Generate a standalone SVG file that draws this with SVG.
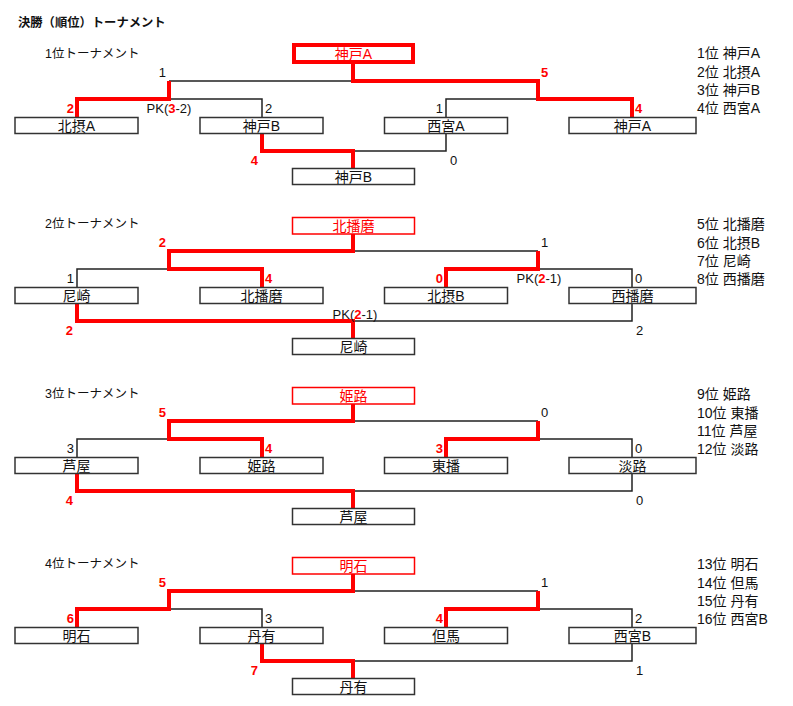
<svg xmlns="http://www.w3.org/2000/svg" width="793" height="706" viewBox="0 0 793 706">
<style>
text{font-family:"Liberation Sans","Noto Sans CJK JP",sans-serif;fill:#111}
.box{fill:#fff;stroke:#333;stroke-width:1.5}
.wbox{fill:#fff;stroke:#f00;stroke-width:1.5}
.wbox1{fill:#fff;stroke:#f00;stroke-width:4}
.ln{fill:none;stroke:#222;stroke-width:1.5}
.rd{fill:none;stroke:#f00;stroke-width:4}
.bt{font-size:14px;text-anchor:middle}
.wt{font-size:14px;text-anchor:middle;fill:#f00}
.hd{font-size:12.5px}
.ttl{font-size:12.3px;font-weight:bold}
.lg{font-size:14px}
.sc{font-size:13px}
.rs{font-size:13px;fill:#f00;font-weight:bold}
.e{text-anchor:end}
.m{text-anchor:middle}
.r{fill:#f00;font-weight:bold}
</style>
<rect width="793" height="706" fill="#fff"/>
<text class="ttl" x="18" y="27">決勝（順位）トーナメント</text>

<g id="connectors">
  <g id="conn-1">
    <path class="ln" d="M169 81H353M169 99H262V117M446 117V99H538M353 151H446V134"/>
    <path class="rd" d="M353 64V81H538V99H632V117M77 117V99H169V81M262 134V151H353V168"/>
  </g>
  <g id="conn-2" transform="translate(0,170)">
    <path class="ln" d="M353 81H538M77 117V99H169M538 99H632V117M353 151H632V134"/>
    <path class="rd" d="M353 64V81H169V99H262V117M446 117V99H538V81M77 134V151H353V168"/>
  </g>
  <g id="conn-3" transform="translate(0,340)">
    <path class="ln" d="M353 81H538M77 117V99H169M538 99H632V117M353 151H632V134"/>
    <path class="rd" d="M353 64V81H169V99H262V117M446 117V99H538V81M77 134V151H353V168"/>
  </g>
  <g id="conn-4" transform="translate(0,510)">
    <path class="ln" d="M353 81H538M169 99H262V117M538 99H632V117M353 151H632V134"/>
    <path class="rd" d="M353 64V81H169V99H77V117M446 117V99H538V81M262 134V151H353V168"/>
  </g>
</g>

<!-- Section 1 -->
<g id="sec1">
  <text class="hd" x="45" y="58">1位トーナメント</text>
  <g id="s1-winner"><rect class="wbox1" x="294" y="45" width="119" height="17"/><text class="wt" x="353.5" y="59">神戸A</text></g>
  <g id="s1-hokusetsuA"><rect class="box" x="15" y="117.5" width="123" height="16"/><text class="bt" x="76.5" y="131">北摂A</text></g>
  <g id="s1-kobeB"><rect class="box" x="200" y="117.5" width="123" height="16"/><text class="bt" x="261.5" y="131">神戸B</text></g>
  <g id="s1-nishinomiyaA"><rect class="box" x="384.5" y="117.5" width="123" height="16"/><text class="bt" x="446" y="131">西宮A</text></g>
  <g id="s1-kobeA"><rect class="box" x="569" y="117.5" width="127" height="16"/><text class="bt" x="632.5" y="131">神戸A</text></g>
  <g id="s1-third"><rect class="box" x="292.5" y="168.5" width="122" height="16"/><text class="bt" x="353.5" y="182">神戸B</text></g>
  <text class="sc e" x="166" y="77">1</text>
  <text class="rs" x="541" y="77">5</text>
  <text class="rs e" x="74" y="113">2</text>
  <text class="sc" x="265" y="113">2</text>
  <text class="sc m" x="169" y="113">PK(<tspan class="r">3</tspan>-2)</text>
  <text class="sc e" x="443" y="113">1</text>
  <text class="rs" x="635" y="113">4</text>
  <text class="rs e" x="258" y="165">4</text>
  <text class="sc" x="450" y="165">0</text>
  <text class="lg" x="697" y="58">1位 神戸A</text>
  <text class="lg" x="697" y="76.5">2位 北摂A</text>
  <text class="lg" x="697" y="95">3位 神戸B</text>
  <text class="lg" x="697" y="113">4位 西宮A</text>
</g>

<!-- Section 2 -->
<g id="sec2" transform="translate(0,170)">
  <text class="hd" x="45" y="58">2位トーナメント</text>
  <g id="s2-winner"><rect class="wbox" x="292.5" y="47.5" width="122" height="16.5"/><text class="wt" x="353.5" y="61">北播磨</text></g>
  <g id="s2-amagasaki"><rect class="box" x="15" y="117.5" width="123" height="16"/><text class="bt" x="76.5" y="131">尼崎</text></g>
  <g id="s2-kitaharima"><rect class="box" x="200" y="117.5" width="123" height="16"/><text class="bt" x="261.5" y="131">北播磨</text></g>
  <g id="s2-hokusetsuB"><rect class="box" x="384.5" y="117.5" width="123" height="16"/><text class="bt" x="446" y="131">北摂B</text></g>
  <g id="s2-nishiharima"><rect class="box" x="569" y="117.5" width="127" height="16"/><text class="bt" x="632.5" y="131">西播磨</text></g>
  <g id="s2-third"><rect class="box" x="292.5" y="168.5" width="122" height="16"/><text class="bt" x="353.5" y="182">尼崎</text></g>
  <text class="rs e" x="166" y="77">2</text>
  <text class="sc" x="541" y="77">1</text>
  <text class="sc e" x="74" y="113">1</text>
  <text class="rs" x="265" y="113">4</text>
  <text class="rs e" x="443" y="113">0</text>
  <text class="sc" x="635" y="113">0</text>
  <text class="sc m" x="539" y="113">PK(<tspan class="r">2</tspan>-1)</text>
  <text class="rs e" x="73" y="165">2</text>
  <text class="sc" x="636" y="165">2</text>
  <text class="sc m" x="355" y="148.5">PK(<tspan class="r">2</tspan>-1)</text>
  <text class="lg" x="697" y="59">5位 北播磨</text>
  <text class="lg" x="697" y="77.5">6位 北摂B</text>
  <text class="lg" x="697" y="95.5">7位 尼崎</text>
  <text class="lg" x="697" y="113.5">8位 西播磨</text>
</g>

<!-- Section 3 -->
<g id="sec3" transform="translate(0,340)">
  <text class="hd" x="45" y="58">3位トーナメント</text>
  <g id="s3-winner"><rect class="wbox" x="292.5" y="47.5" width="122" height="16.5"/><text class="wt" x="353.5" y="61">姫路</text></g>
  <g id="s3-ashiya"><rect class="box" x="15" y="117.5" width="123" height="16"/><text class="bt" x="76.5" y="131">芦屋</text></g>
  <g id="s3-himeji"><rect class="box" x="200" y="117.5" width="123" height="16"/><text class="bt" x="261.5" y="131">姫路</text></g>
  <g id="s3-tohban"><rect class="box" x="384.5" y="117.5" width="123" height="16"/><text class="bt" x="446" y="131">東播</text></g>
  <g id="s3-awaji"><rect class="box" x="569" y="117.5" width="127" height="16"/><text class="bt" x="632.5" y="131">淡路</text></g>
  <g id="s3-third"><rect class="box" x="292.5" y="168.5" width="122" height="16"/><text class="bt" x="353.5" y="182">芦屋</text></g>
  <text class="rs e" x="166" y="77">5</text>
  <text class="sc" x="541" y="77">0</text>
  <text class="sc e" x="74" y="113">3</text>
  <text class="rs" x="265" y="113">4</text>
  <text class="rs e" x="443" y="113">3</text>
  <text class="sc" x="635" y="113">0</text>
  <text class="rs e" x="73" y="165">4</text>
  <text class="sc" x="636" y="165">0</text>
  <text class="lg" x="697" y="59">9位 姫路</text>
  <text class="lg" x="697" y="77.5">10位 東播</text>
  <text class="lg" x="697" y="95.5">11位 芦屋</text>
  <text class="lg" x="697" y="113.5">12位 淡路</text>
</g>

<!-- Section 4 -->
<g id="sec4" transform="translate(0,510)">
  <text class="hd" x="45" y="58">4位トーナメント</text>
  <g id="s4-winner"><rect class="wbox" x="292.5" y="47.5" width="122" height="16.5"/><text class="wt" x="353.5" y="61">明石</text></g>
  <g id="s4-akashi"><rect class="box" x="15" y="117.5" width="123" height="16"/><text class="bt" x="76.5" y="131">明石</text></g>
  <g id="s4-tanyu"><rect class="box" x="200" y="117.5" width="123" height="16"/><text class="bt" x="261.5" y="131">丹有</text></g>
  <g id="s4-tajima"><rect class="box" x="384.5" y="117.5" width="123" height="16"/><text class="bt" x="446" y="131">但馬</text></g>
  <g id="s4-nishinomiyaB"><rect class="box" x="569" y="117.5" width="127" height="16"/><text class="bt" x="632.5" y="131">西宮B</text></g>
  <g id="s4-third"><rect class="box" x="292.5" y="168.5" width="122" height="16"/><text class="bt" x="353.5" y="182">丹有</text></g>
  <text class="rs e" x="166" y="77">5</text>
  <text class="sc" x="541" y="77">1</text>
  <text class="rs e" x="74" y="113">6</text>
  <text class="sc" x="265" y="113">3</text>
  <text class="rs e" x="443" y="113">4</text>
  <text class="sc" x="635" y="113">2</text>
  <text class="rs e" x="258" y="165">7</text>
  <text class="sc" x="636" y="165">1</text>
  <text class="lg" x="697" y="59">13位 明石</text>
  <text class="lg" x="697" y="77.5">14位 但馬</text>
  <text class="lg" x="697" y="95.5">15位 丹有</text>
  <text class="lg" x="697" y="113.5">16位 西宮B</text>
</g>
</svg>
